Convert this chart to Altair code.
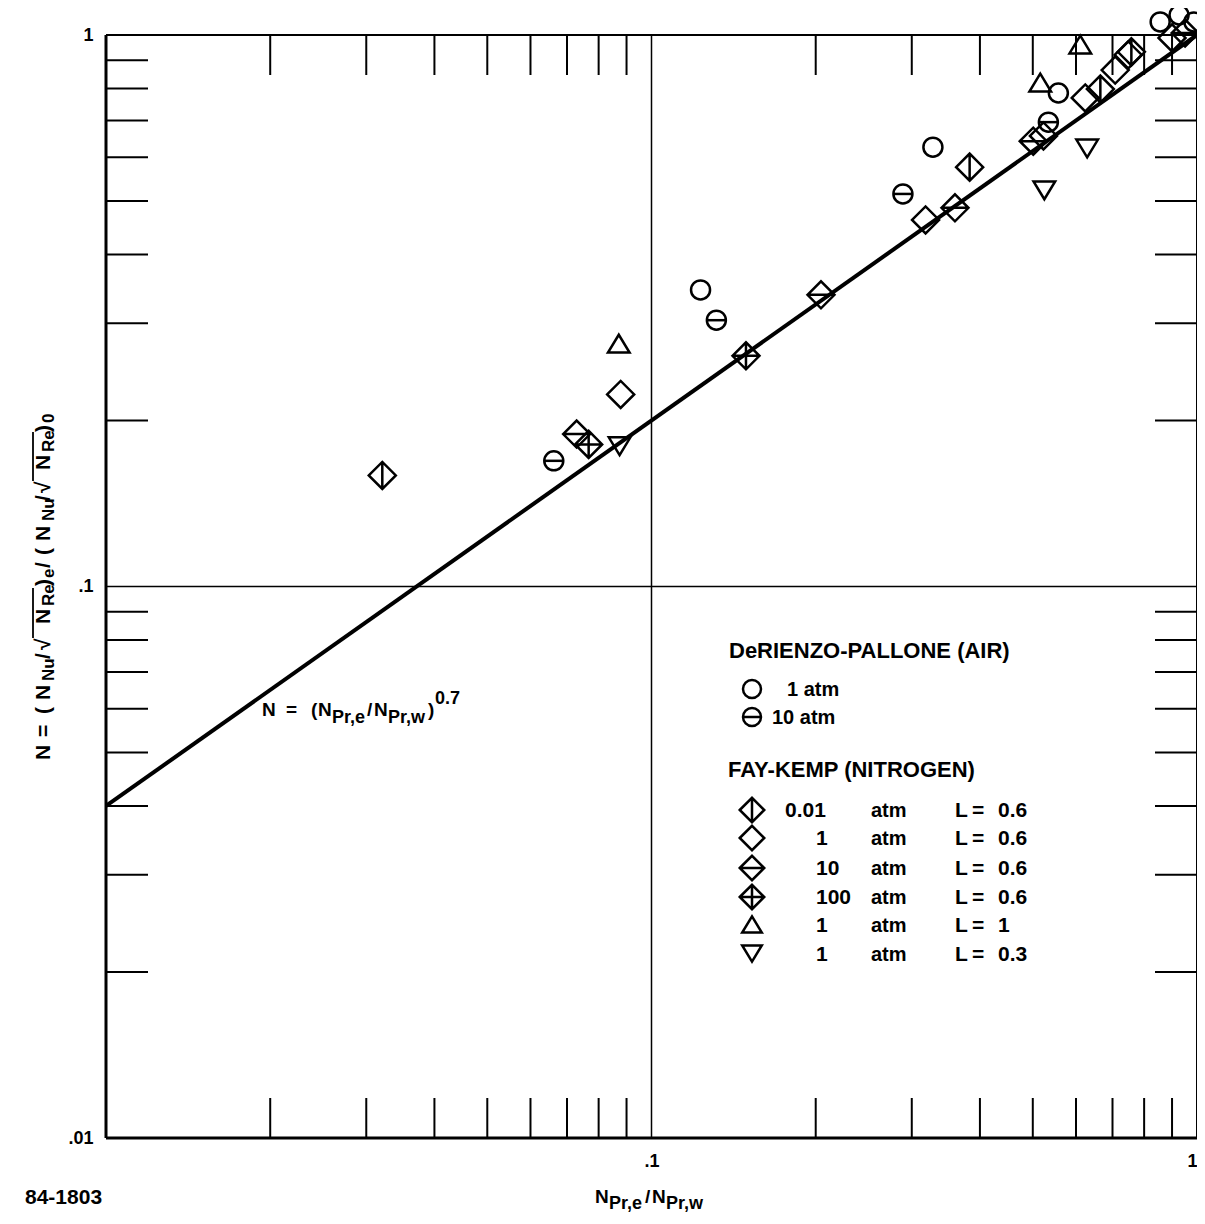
import altair as alt
import pandas as pd

W, H = 1091, 1103          # plot area
OX, OY = 106, 35           # page position of plot area (for annotation placement)
FONT = "Liberation Sans"

# ---------------- data ----------------
pt_type = ["d001", "c10", "d10", "d100", "tu", "d1", "td", "c1", "c10", "d100",
           "d10", "c10", "c1", "d1", "d10", "d001",
           "tu", "tu", "c1", "c10", "d10", "d1", "td", "td", "d1", "d001",
           "d1", "d1", "d001", "c1", "c1", "c1", "d1", "d10"]
pt_x = [0.0321, 0.0662, 0.0729, 0.0767, 0.0871, 0.0878, 0.0874, 0.123, 0.1315, 0.149,
        0.2045, 0.289, 0.328, 0.318, 0.360, 0.383,
        0.611, 0.516, 0.557, 0.534, 0.501, 0.523, 0.629, 0.525, 0.624, 0.665,
        0.708, 0.748, 0.758, 0.856, 0.927, 0.987, 0.900, 0.951]
pt_y = [0.159, 0.169, 0.189, 0.181, 0.275, 0.223, 0.180, 0.345, 0.304, 0.262,
        0.338, 0.515, 0.626, 0.462, 0.486, 0.576,
        0.959, 0.818, 0.785, 0.695, 0.642, 0.656, 0.624, 0.524, 0.769, 0.798,
        0.864, 0.920, 0.932, 1.056, 1.087, 1.056, 0.988, 1.008]

line_x = [0.01, 1.0]
line_y = [0.04, 1.0]

grid_vals = [0.1]
minor_ticks = [0.02, 0.03, 0.04, 0.05, 0.06, 0.07, 0.08, 0.09,
               0.2, 0.3, 0.4, 0.5, 0.6, 0.7, 0.8, 0.9]
x_labels = [0.1, 1]
y_labels = [0.01, 0.1, 1]

legend_types = ["c1", "c10", "d001", "d1", "d10", "d100", "tu", "td"]
legend_press = ["0.01", "1", "10", "100", "1", "1"]
legend_L = ["0.6", "0.6", "0.6", "0.6", "1", "0.3"]

# ---------------- styles ----------------
DIA = "M-1,0L0,-1L1,0L0,1Z"
SHAPE = {
    "c1": "circle", "c10": "circle",
    "d001": DIA + " M0,-1L0,1",
    "d1": DIA,
    "d10": DIA + " M-1,0L1,0",
    "d100": DIA + " M-1,0L1,0 M0,-1L0,1",
    "tu": "M0,-0.7L0.8,0.62L-0.8,0.62Z",
    "td": "M0,0.7L0.8,-0.62L-0.8,-0.62Z",
}
SIZE = {"c1": 361, "c10": 361}
LSIZE = {"c1": 324, "c10": 324}

xs = alt.Scale(type="log", domain=[0.01, 1], nice=False)
ys = alt.Scale(type="log", domain=[0.01, 1], nice=False)
LBL = "datum.value >= 0.99 ? '1' : datum.value >= 0.099 ? '.1' : '.01'"
xaxis = alt.Axis(values=x_labels, labelExpr=LBL, ticks=False, domain=False, grid=False,
                 title=None, labelFont=FONT, labelFontSize=18, labelFontWeight="bold",
                 labelColor="black", labelPadding=14, labelFlush=True)
yaxis = alt.Axis(values=y_labels, labelExpr=LBL, ticks=False, domain=False, grid=False,
                 title=None, labelFont=FONT, labelFontSize=18, labelFontWeight="bold",
                 labelColor="black", labelPadding=13, labelFlush=False, labelBaseline="middle")

X = lambda f="x": alt.X(f + ":Q", scale=xs, axis=xaxis)
Y = lambda f="y": alt.Y(f + ":Q", scale=ys, axis=yaxis)

# ---------------- tables ----------------
df_pts = pd.DataFrame({"x": pt_x, "y": pt_y, "type": pt_type})
df_pts["shp"] = df_pts["type"].map(SHAPE)
df_pts["sz"] = df_pts["type"].map(lambda t: SIZE.get(t, 729))
df_bar = df_pts[df_pts["type"] == "c10"].copy()

df_line = pd.DataFrame({"x": line_x, "y": line_y})
df_gx = pd.DataFrame({"x": grid_vals})
df_gy = pd.DataFrame({"y": grid_vals})
df_tx = pd.DataFrame({"x": minor_ticks})
df_ty = pd.DataFrame({"y": minor_ticks})

TL = 40
grid_v = alt.Chart(df_gx).mark_rule(color="black", strokeWidth=1.5).encode(x=X())
grid_h = alt.Chart(df_gy).mark_rule(color="black", strokeWidth=1.5).encode(y=Y())
tick_b = alt.Chart(df_tx).mark_rule(color="black", strokeWidth=2).encode(
    x=X(), y=alt.value(H - TL), y2=alt.value(H))
tick_t = alt.Chart(df_tx).mark_rule(color="black", strokeWidth=2).encode(
    x=X(), y=alt.value(0), y2=alt.value(TL))
tick_l = alt.Chart(df_ty).mark_rule(color="black", strokeWidth=2).encode(
    y=Y(), x=alt.value(0), x2=alt.value(TL + 2))
tick_r = alt.Chart(df_ty).mark_rule(color="black", strokeWidth=2).encode(
    y=Y(), x=alt.value(W - TL - 2), x2=alt.value(W))

# frame (left/bottom a bit heavier, as in the scan)
frame_l = alt.Chart(df_gx).mark_rule(color="black", strokeWidth=3).encode(
    x=alt.value(0), y=alt.value(0), y2=alt.value(H))
frame_b = alt.Chart(df_gx).mark_rule(color="black", strokeWidth=3).encode(
    y=alt.value(H), x=alt.value(0), x2=alt.value(W))
frame_t = alt.Chart(df_gx).mark_rule(color="black", strokeWidth=2).encode(
    y=alt.value(0), x=alt.value(0), x2=alt.value(W))
frame_r = alt.Chart(df_gx).mark_rule(color="black", strokeWidth=2).encode(
    x=alt.value(W), y=alt.value(0), y2=alt.value(H))

line = alt.Chart(df_line).mark_line(color="black", strokeWidth=4).encode(x=X(), y=Y())

pts = alt.Chart(df_pts).mark_point(filled=False, color="black", strokeWidth=2.5, opacity=1).encode(
    x=X(), y=Y(),
    shape=alt.Shape("shp:N", scale=None),
    size=alt.Size("sz:Q", scale=None),
)
bars = alt.Chart(df_bar).mark_point(filled=False, color="black", strokeWidth=2.5, opacity=1,
                                    shape="M-1,0L1,0", size=361).encode(x=X(), y=Y())

# ---------------- legend (annotation) ----------------
leg_sym_pos = {"c1": (752, 689), "c10": (752, 717), "d001": (752, 810), "d1": (752, 838),
               "d10": (752, 868), "d100": (752, 897), "tu": (752, 925), "td": (752, 953)}
df_lsym = pd.DataFrame({"type": legend_types})
df_lsym["px"] = df_lsym["type"].map(lambda t: leg_sym_pos[t][0] - OX)
df_lsym["py"] = df_lsym["type"].map(lambda t: leg_sym_pos[t][1] - OY)
df_lsym["shp"] = df_lsym["type"].map(SHAPE)
df_lsym["sz"] = df_lsym["type"].map(lambda t: LSIZE.get(t, 600))
leg_sym = alt.Chart(df_lsym).mark_point(filled=False, color="black", strokeWidth=2.5, opacity=1).encode(
    x=alt.X("px:Q", scale=None), y=alt.Y("py:Q", scale=None),
    shape=alt.Shape("shp:N", scale=None), size=alt.Size("sz:Q", scale=None))
leg_bar = alt.Chart(df_lsym[df_lsym["type"] == "c10"]).mark_point(
    filled=False, color="black", strokeWidth=2.5, opacity=1, shape="M-1,0L1,0", size=324).encode(
    x=alt.X("px:Q", scale=None), y=alt.Y("py:Q", scale=None))

texts = [  # (text, page_x, page_y baseline, size)
    ("DeRIENZO-PALLONE (AIR)", 729, 658, 22),
    ("1 atm", 787, 696, 20),
    ("10 atm", 772, 724, 20),
    ("FAY-KEMP (NITROGEN)", 728, 777, 22),
    ("84-1803", 25, 1204, 21),
    # equation annotation
    ("N", 262, 716, 19), ("=", 286, 716, 19), ("(", 311, 716, 19), ("N", 318, 716, 19),
    ("Pr,e", 332, 723, 18), ("/", 367, 716, 19), ("N", 374, 716, 19),
    ("Pr,w", 388, 723, 18), (")", 428, 716, 19), ("0.7", 435, 704, 18),
    # x-axis title
    ("N", 595, 1203, 19), ("Pr,e", 609, 1209, 18), ("/", 645, 1203, 19),
    ("N", 652, 1203, 19), ("Pr,w", 666, 1209, 18),
]
row_base = [817, 845, 875, 904, 932, 961]
for i, (p, L) in enumerate(zip(legend_press, legend_L)):
    texts.append((p, 785 if p == "0.01" else 816, row_base[i], 21))
    texts.append(("atm", 871, row_base[i], 20))
    texts.append(("L", 955, row_base[i], 21))
    texts.append(("=", 972, row_base[i], 21))
    texts.append((L, 998, row_base[i], 21))

df_txt = pd.DataFrame(texts, columns=["t", "px", "py", "fs"])
df_txt["px"] -= OX
df_txt["py"] -= OY
txt = alt.Chart(df_txt).mark_text(align="left", baseline="alphabetic", font=FONT,
                                  fontWeight="bold", color="black").encode(
    x=alt.X("px:Q", scale=None), y=alt.Y("py:Q", scale=None),
    text="t:N", size=alt.Size("fs:Q", scale=None))

# rotated y-axis title: (text, page_y start, subscript?)
ytitle = [("N", 760, 0), ("=", 737, 0), ("(", 714, 0), ("N", 700, 0), ("Nu", 681, 1),
          ("/", 659, 0), ("\u221a", 650, 0),
          ("N", 624, 0), ("Re", 606, 1), (")", 586, 0), ("e", 578, 1), ("/", 568, 0),
          ("(", 555, 0),
          ("N", 541, 0), ("Nu", 521, 1), ("/", 501, 0), ("\u221a", 493, 0), ("N", 470, 0),
          ("Re", 452, 1), (")", 432, 0), ("0", 423, 1)]
df_yt = pd.DataFrame(ytitle, columns=["t", "py", "sub"])
df_yt["px"] = df_yt["sub"].map(lambda s: 54 if s else 50) - OX
df_yt["fs"] = df_yt["sub"].map(lambda s: 17 if s else 21)
df_yt["py"] -= OY
ytxt = alt.Chart(df_yt).mark_text(align="left", baseline="alphabetic", font=FONT, angle=270,
                                  fontWeight="bold", color="black").encode(
    x=alt.X("px:Q", scale=None), y=alt.Y("py:Q", scale=None),
    text="t:N", size=alt.Size("fs:Q", scale=None))
df_ov = pd.DataFrame({"px": [33 - OX, 33 - OX], "py": [638 - OY, 481 - OY], "py2": [588 - OY, 432 - OY]})
yover = alt.Chart(df_ov).mark_rule(color="black", strokeWidth=1.8).encode(
    x=alt.X("px:Q", scale=None), y=alt.Y("py:Q", scale=None), y2="py2:Q")

chart = alt.layer(
    grid_v, grid_h, tick_b, tick_t, tick_l, tick_r, frame_l, frame_b, frame_t, frame_r,
    line, pts, bars, leg_sym, leg_bar, txt, ytxt, yover
).properties(
    width=W, height=H,
    background="white",
    autosize=alt.AutoSizeParams(type="none"),
    padding={"left": 98, "top": 27, "right": 0, "bottom": 78},
).configure_view(strokeWidth=0)

chart.save("out.html", embed_options={"renderer": "svg", "actions": False})
